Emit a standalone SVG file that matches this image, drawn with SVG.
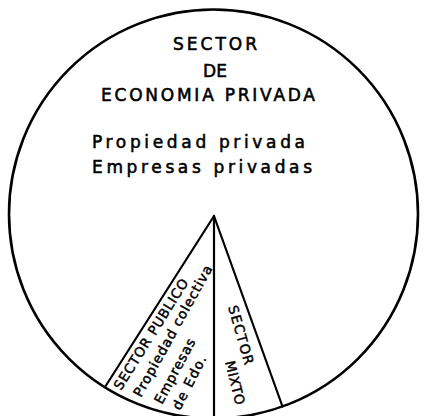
<svg xmlns="http://www.w3.org/2000/svg" width="424" height="416" viewBox="0 0 424 416">
  <style>
    .outline { fill: none; stroke: #000; stroke-width: 2.6; }
    .divider { fill: none; stroke: #000; stroke-width: 2.2; stroke-linecap: round; }
    .label { font-family: "DejaVu Sans", "Liberation Sans", sans-serif; fill: #000; stroke: #000; stroke-width: 0.55; }
    .big { font-size: 17px; }
    .small { font-size: 13.5px; stroke-width: 0.45; }
  </style>
  <rect width="424" height="416" fill="#fff"/>

  <!-- whole economy as a circle -->
  <g id="economia">
    <circle class="outline" cx="213.5" cy="214" r="204.5"/>
  </g>

  <!-- wedge boundaries radiating from the centre -->
  <g id="divisiones">
    <line class="divider" x1="214" y1="216" x2="105" y2="387"/>
    <line class="divider" x1="214" y1="216" x2="214" y2="418"/>
    <line class="divider" x1="214" y1="216" x2="282.5" y2="406.5"/>
  </g>

  <!-- private sector: the large remaining area -->
  <g id="sector-privado" class="label">
    <text class="big" x="173" y="50" textLength="84" lengthAdjust="spacing">SECTOR</text>
    <text class="big" x="203" y="77" textLength="24" lengthAdjust="spacing">DE</text>
    <text class="big" x="101" y="101" textLength="214" lengthAdjust="spacing">ECONOMIA PRIVADA</text>
    <text class="big" x="92" y="148" textLength="213" lengthAdjust="spacing">Propiedad privada</text>
    <text class="big" x="92" y="173" textLength="220" lengthAdjust="spacing">Empresas privadas</text>
  </g>

  <!-- public sector wedge (left) -->
  <g id="sector-publico" class="label">
    <text class="small" transform="translate(121,391) rotate(-58)" textLength="128" lengthAdjust="spacing">SECTOR PUBLICO</text>
    <text class="small" transform="translate(141,398) rotate(-61)" textLength="148" lengthAdjust="spacing">Propiedad colectiva</text>
    <text class="small" transform="translate(162,405) rotate(-62)" textLength="72" lengthAdjust="spacing">Empresas</text>
    <text class="small" transform="translate(180,411) rotate(-63)" textLength="59" lengthAdjust="spacing">de Edo.</text>
  </g>

  <!-- mixed sector wedge (right) -->
  <g id="sector-mixto" class="label">
    <text class="small" transform="translate(228,307) rotate(74)" textLength="61" lengthAdjust="spacing">SECTOR</text>
    <text class="small" transform="translate(225,362) rotate(76)" textLength="45" lengthAdjust="spacing">MIXTO</text>
  </g>
</svg>
